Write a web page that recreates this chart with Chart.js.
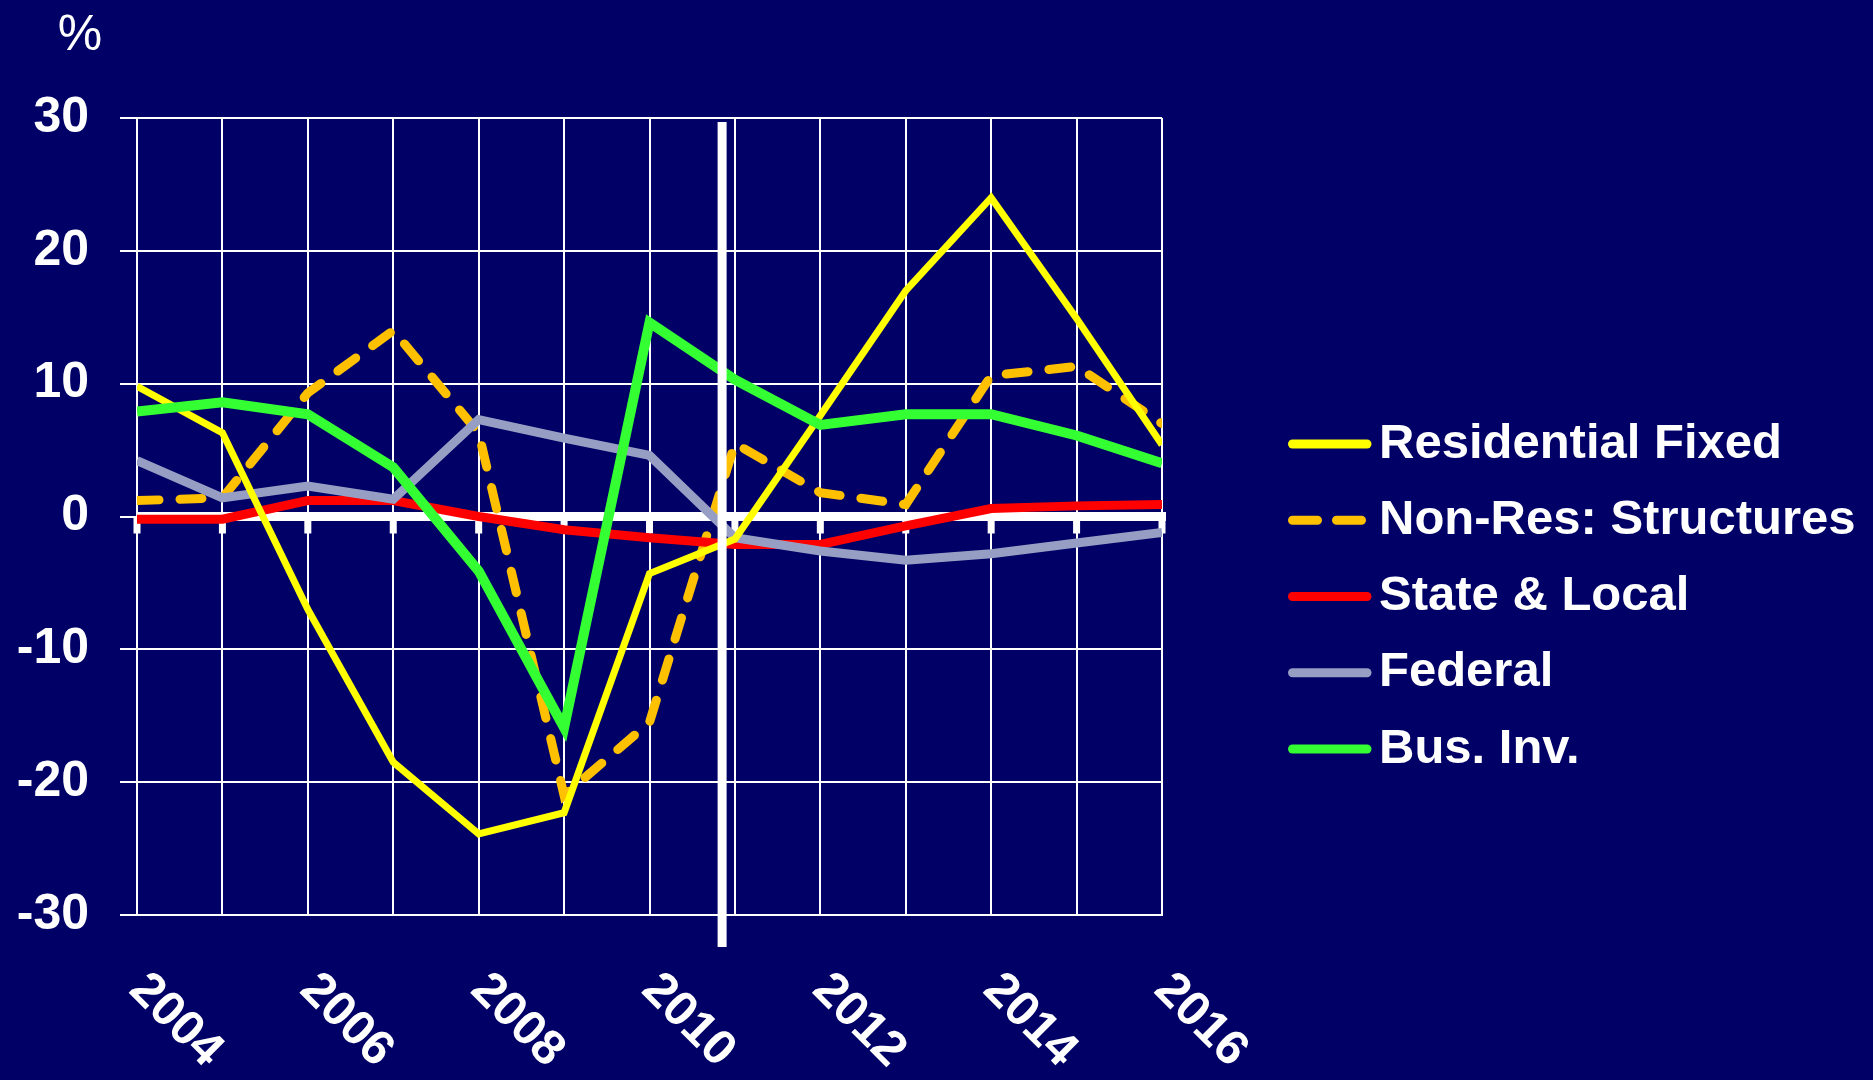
<!DOCTYPE html>
<html lang="en">
<head>
    <meta charset="UTF-8">
    <title>Investment growth</title>
    <script src="https://cdn.jsdelivr.net/npm/chart.js"></script>
    <style>
        html, body { margin: 0; padding: 0; background: #000066; overflow: hidden; }
        #chart { display: block; }
    </style>
</head>
<body>
    <canvas id="chart" width="1873" height="1080"></canvas>

    <script>
        // values, % change per year
        const years = [2004, 2005, 2006, 2007, 2008, 2009, 2010, 2011, 2012, 2013, 2014, 2015, 2016];
        const residentialFixed = [9.8, 6.3, -7.0, -18.5, -23.9, -22.3, -4.3, -1.7, 7.6, 17.0, 24.0, 14.9, 5.4];
        const nonResStructures = [1.2, 1.4, 9.3, 14.0, 6.3, -21.0, -15.5, 5.5, 1.8, 0.9, 10.6, 11.3, 7.0];
        const stateLocal = [-0.2, -0.2, 1.2, 1.2, 0.0, -1.0, -1.6, -2.1, -2.1, -0.7, 0.6, 0.8, 0.9];
        const federal = [4.2, 1.4, 2.3, 1.3, 7.3, 5.9, 4.6, -1.6, -2.6, -3.3, -2.8, -2.0, -1.2];
        const busInv = [7.9, 8.6, 7.7, 3.7, -4.1, -15.9, 14.6, 10.3, 6.9, 7.7, 7.7, 6.1, 4.0];

        const seriesNames = ['Residential Fixed', 'Non-Res: Structures', 'State & Local', 'Federal', 'Bus. Inv.'];
        const xLabelYears = [2004, 2006, 2008, 2010, 2012, 2014, 2016];
        const xLabels = ['2004', '2006', '2008', '2010', '2012', '2014', '2016'];
        const yMin = -30, yMax = 30, yStep = 10;
        const forecastYear = 2010.85;   // the white vertical marker
        const unitLabel = '%';

        const FONT = "'Liberation Sans', Arial, sans-serif";

        const toPoints = vals => vals.map((v, i) => ({ x: years[i], y: v }));

        // legend sample styles, same order as seriesNames
        const legendStyles = [
            { color: '#FFFF00', dash: [] },
            { color: '#FFC000', dash: [25, 19] },
            { color: '#FF0000', dash: [] },
            { color: '#969FC3', dash: [] },
            { color: '#33FF33', dash: [] }
        ];

        const extras = {
            id: 'extras',
            beforeDatasetsDraw(chart) {
                const ctx = chart.ctx;
                const area = chart.chartArea;
                const xs = chart.scales.x, ys = chart.scales.y;
                const y0 = ys.getPixelForValue(0);
                ctx.save();
                ctx.fillStyle = '#fff';
                // thick zero line with year ticks hanging below
                ctx.fillRect(area.left, y0 - 4.5, area.right - area.left + 4, 9);
                years.forEach(yr => {
                    const x = xs.getPixelForValue(yr);
                    ctx.fillRect(x - 3.5, y0, 7, 17);
                });
                ctx.restore();
            },
            afterDatasetsDraw(chart) {
                const ctx = chart.ctx;
                const area = chart.chartArea;
                const x = chart.scales.x.getPixelForValue(forecastYear);
                ctx.save();
                ctx.fillStyle = '#fff';
                ctx.fillRect(x - 4.5, area.top + 4, 9, area.bottom - area.top + 28);
                ctx.restore();
            },
            afterDraw(chart) {
                const ctx = chart.ctx;
                const area = chart.chartArea;
                const xs = chart.scales.x;
                ctx.save();
                ctx.fillStyle = '#fff';

                // rotated year labels
                ctx.font = 'bold 49px ' + FONT;
                ctx.textAlign = 'left';
                ctx.textBaseline = 'middle';
                xLabelYears.forEach((yr, i) => {
                    ctx.save();
                    ctx.translate(xs.getPixelForValue(yr), area.bottom + 67);
                    ctx.rotate(Math.PI / 4);
                    ctx.fillText(xLabels[i], 0, 0);
                    ctx.restore();
                });

                // unit label
                ctx.font = '50px ' + FONT;
                ctx.textAlign = 'center';
                ctx.fillText(unitLabel, 80, 36);

                // legend
                ctx.font = 'bold 49px ' + FONT;
                ctx.textAlign = 'left';
                const lx = area.right + 126;
                seriesNames.forEach((name, i) => {
                    const y = 444 + i * 76.25;
                    const st = legendStyles[i];
                    ctx.beginPath();
                    ctx.strokeStyle = st.color;
                    ctx.lineWidth = 9;
                    ctx.lineCap = 'round';
                    ctx.setLineDash(st.dash);
                    ctx.moveTo(lx + 4.5, y);
                    ctx.lineTo(lx + 79, y);
                    ctx.stroke();
                    ctx.setLineDash([]);
                    ctx.fillText(name, lx + 91, y);
                });
                ctx.restore();
            }
        };

        new Chart(document.getElementById('chart'), {
            type: 'line',
            data: {
                datasets: [
                    { label: seriesNames[0], data: toPoints(residentialFixed), borderColor: '#FFFF00', borderWidth: 7, order: 1 },
                    { label: seriesNames[1], data: toPoints(nonResStructures), borderColor: '#FFC000', borderWidth: 9, borderDash: [22, 21], borderCapStyle: 'round', order: 4 },
                    { label: seriesNames[2], data: toPoints(stateLocal), borderColor: '#FF0000', borderWidth: 9, order: 3 },
                    { label: seriesNames[3], data: toPoints(federal), borderColor: '#969FC3', borderWidth: 9, order: 2 },
                    { label: seriesNames[4], data: toPoints(busInv), borderColor: '#33FF33', borderWidth: 10, order: 0 }
                ]
            },
            options: {
                responsive: false,
                animation: false,
                layout: { padding: { top: 118, right: 711, left: 0, bottom: 0 } },
                elements: {
                    point: { radius: 0 },
                    line: { tension: 0, fill: false }
                },
                plugins: {
                    legend: { display: false },
                    tooltip: { enabled: false }
                },
                scales: {
                    x: {
                        type: 'linear',
                        min: years[0],
                        max: years[years.length - 1],
                        ticks: { stepSize: 1, display: false },
                        grid: { color: '#fff', lineWidth: 2, drawTicks: false },
                        border: { color: '#fff', width: 2 },
                        afterFit: s => { s.height = 165; }
                    },
                    y: {
                        min: yMin,
                        max: yMax,
                        ticks: {
                            stepSize: yStep,
                            color: '#fff',
                            padding: 31,
                            font: { family: FONT, size: 50, weight: 'bold' }
                        },
                        grid: { color: '#fff', lineWidth: 2, tickLength: 17 },
                        border: { color: '#fff', width: 2 },
                        afterFit: s => { s.width = 137; }
                    }
                }
            },
            plugins: [extras]
        });
    </script>
</body>
</html>
